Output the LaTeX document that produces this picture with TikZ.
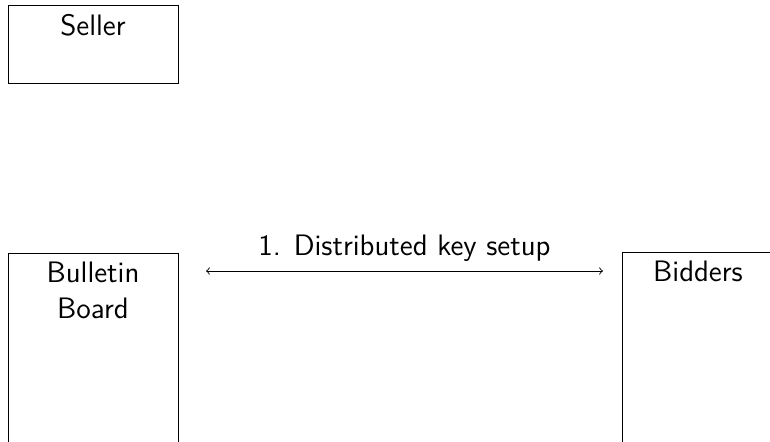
\documentclass[tikz,border=0pt]{standalone}
\usetikzlibrary{arrows}
\begin{document}
\begin{tikzpicture}[x=0.5pt,y=-0.5pt,
  party/.style={draw, line width=0.5pt, rectangle, inner sep=0pt, anchor=north west},
  title/.style={anchor=base, inner sep=0pt, align=center,
    font=\fontsize{14.8}{18}\selectfont\sffamily},
  msg/.style={<->, line width=0.45pt}]
  \useasboundingbox (0,0) rectangle (770,442);
  \clip (0,0) rectangle (770,442);

  % participant boxes (the lower two run past the frame)
  \node[party, minimum width=85pt, minimum height=39pt] (seller) at (8,5) {};
  \node[party, minimum width=85pt, minimum height=150pt] (bb) at (8,253) {};
  \node[party, minimum width=76pt, minimum height=150pt] (bidders) at (622,252) {};

  % box titles (base of a two-line node is its last line)
  \node[title] (sellerT) at (93,36) {Seller};
  \node[title] (bbT) at (93,319) {Bulletin\\Board};
  \node[title] (biddersT) at (698,282) {Bidders};

  % message between bulletin board and bidders
  \coordinate (a) at ([xshift=13.5pt]bb.north east |- 0,271);
  \coordinate (b) at ([xshift=-9.5pt]bidders.north west |- 0,271);
  \draw[msg] (a) -- node[title, anchor=base, yshift=7.5pt] (m1) {1. Distributed key setup} (b);
\end{tikzpicture}
\end{document}
